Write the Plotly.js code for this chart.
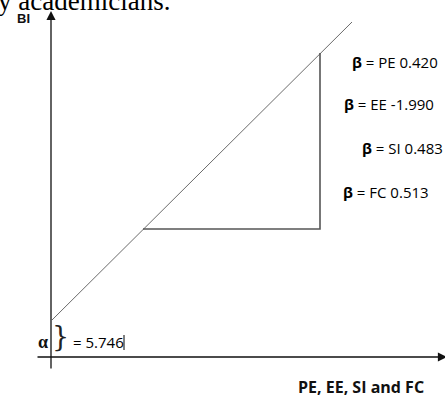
<!DOCTYPE html>
<html>
<head>
<meta charset="utf-8">
<script src="https://cdn.plot.ly/plotly-3.0.1.min.js"></script>
<style>html,body{margin:0;padding:0;background:#fff;}#chart{width:445px;height:397px;}</style>
</head>
<body>
<div id="chart"></div>
<script>
// Conceptual regression diagram: BI = alpha + beta * (PE, EE, SI, FC)
const alphaValue = 5.746;
const betaNames = ['PE', 'EE', 'SI', 'FC'];
const betaValues = [0.420, -1.990, 0.483, 0.513];
const yAxisLabel = 'BI';
const xAxisLabel = 'PE, EE, SI and FC';
const captionFragment = 'y academicians.';

// schematic regression line (diagram units)
const lineX = [1, 301];
const lineY = [37, 335];
// slope triangle
const triX = [92, 269, 269];
const triY = [128, 128, 304];

// label anchor positions (diagram units)
const betaLabelX = [299, 291, 309, 290];
const betaLabelY = [295, 253, 209, 165];

const font = '"Open Sans", Lato, sans-serif';

const traces = [
  {x: lineX, y: lineY, mode: 'lines', line: {color: '#6b6b6b', width: 1}, hoverinfo: 'skip'},
  {x: triX, y: triY, mode: 'lines', line: {color: '#555', width: 1.6}, hoverinfo: 'skip'}
];

const annotations = [];
annotations.push({x: 0, y: 1, xref: 'paper', yref: 'paper', xanchor: 'left', yanchor: 'bottom', xshift: -4, yshift: -18,
  text: captionFragment, showarrow: false, font: {family: 'Liberation Serif, serif', size: 27, color: '#000'}});
// y axis with arrow
annotations.push({x: 0, y: 346, ax: 0, ay: -13, xref: 'x', yref: 'y', axref: 'x', ayref: 'y',
  showarrow: true, arrowhead: 2, arrowsize: 1.4, arrowwidth: 1.3, arrowcolor: '#111', text: ''});
// x axis with arrow
annotations.push({x: 396, y: 0, ax: -15, ay: 0, xref: 'x', yref: 'y', axref: 'x', ayref: 'y',
  showarrow: true, arrowhead: 2, arrowsize: 1.4, arrowwidth: 1.3, arrowcolor: '#111', text: ''});

annotations.push({x: -27.5, y: 339, xref: 'x', yref: 'y', text: '<b>' + yAxisLabel + '</b>', showarrow: false,
  font: {family: 'Liberation Sans, Arial', size: 13, color: '#111'}});
annotations.push({x: 245, y: -30, xref: 'x', yref: 'y', xanchor: 'left', text: '<b>' + xAxisLabel + '</b>', showarrow: false,
  font: {family: font, size: 16, color: '#111'}});

betaNames.forEach((n, i) => {
  annotations.push({x: betaLabelX[i], y: betaLabelY[i], xref: 'x', yref: 'y', xanchor: 'left', showarrow: false,
    text: '<b>β</b> = ' + n + ' ' + betaValues[i].toFixed(3),
    font: {family: font, size: 15, color: '#000'}});
});

annotations.push({x: -8.5, y: 15, xref: 'x', yref: 'y', text: '<b>α</b>', showarrow: false,
  font: {family: 'Liberation Serif, serif', size: 18, color: '#111'}});
annotations.push({x: 9, y: 21, xref: 'x', yref: 'y', text: '}', showarrow: false,
  font: {family: 'DejaVu Serif, serif', size: 27, color: '#222'}});
annotations.push({x: 20, y: 15, xref: 'x', yref: 'y', xanchor: 'left', text: '= ' + alphaValue.toFixed(3), showarrow: false,
  font: {family: font, size: 15, color: '#000'}});

const shapes = [
  {type: 'line', xref: 'x', yref: 'y', x0: 73, x1: 73, y0: 7, y1: 22, line: {color: '#000', width: 1}}
];

const layout = {
  width: 445, height: 397,
  margin: {l: 0, r: 0, t: 0, b: 0},
  paper_bgcolor: '#fff', plot_bgcolor: '#fff',
  showlegend: false,
  xaxis: {range: [-51, 394], visible: false, fixedrange: true},
  yaxis: {range: [-40, 357], visible: false, fixedrange: true},
  annotations: annotations,
  shapes: shapes
};

Plotly.newPlot('chart', traces, layout, {staticPlot: true});
</script>
</body>
</html>
